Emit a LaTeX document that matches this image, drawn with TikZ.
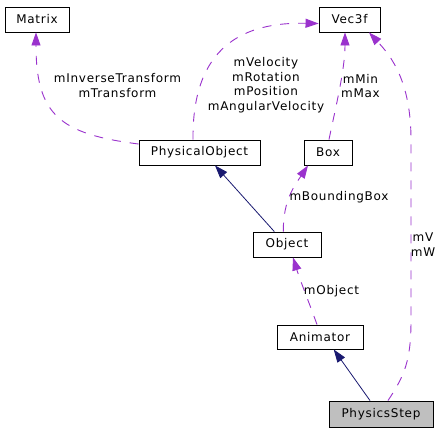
\documentclass[tikz,border=0pt]{standalone}
\usepackage{fontspec}
\setmainfont{DejaVu Sans}[LetterSpace=6]
\usetikzlibrary{arrows.meta}
\definecolor{edgepurple}{HTML}{9A32CD}
\definecolor{edgenavy}{HTML}{191970}
\definecolor{boxgray}{HTML}{BFBFBF}
\begin{document}
\begin{tikzpicture}[x=1pt,y=-1pt,
  cls/.style={draw=black,line width=0.9pt,inner sep=0pt,minimum height=25pt,font=\fontsize{12}{14.5}\selectfont},
  lbl/.style={align=center,inner sep=0pt,font=\fontsize{12}{14.5}\selectfont},
  usage/.style={draw=edgepurple,line width=0.9pt,dash pattern=on 9pt off 9pt,-{Triangle[length=13pt,width=9pt,fill=edgepurple]}},
  inherit/.style={draw=edgenavy,line width=0.8pt,-{Triangle[length=13pt,width=9pt,fill=edgenavy]}}
]
\useasboundingbox[fill=white] (0,0) rectangle (444,432);
\node[cls,minimum width=64pt] (matrix) at (37,19.5) {Matrix};
\node[cls,minimum width=61pt] (vec) at (349.5,19.5) {Vec3f};
\node[cls,minimum width=121pt] (po) at (199.5,152.5) {PhysicalObject};
\node[cls,minimum width=48pt] (box) at (328,152.5) {Box};
\node[cls,minimum width=68pt] (obj) at (287,244.5) {Object};
\node[cls,minimum width=86pt,minimum height=24pt] (anim) at (320,337) {Animator};
\node[cls,minimum width=104pt,minimum height=26pt,fill=boxgray] (ps) at (381,414) {PhysicsStep};
% edges
\draw[usage] ([yshift=8.5pt]po.west) .. controls (60,134) and (36,115) .. ([xshift=-1pt]matrix.south);
\draw[usage] ([xshift=-6.5pt]po.north) .. controls (192,45) and (245,22) .. ([yshift=-4pt]vec.west);
\draw[usage] ([xshift=1pt]box.north) .. controls (335,110) and (345,70) .. ([xshift=-4.5pt]vec.south);
\draw[usage] ([xshift=7pt]ps.north) .. controls (405,375) and (411,360) .. (411,320) -- (411,140) .. controls (411,80) and (390,55) .. ([xshift=19.5pt]vec.south);
\draw[inherit] ([xshift=-12.7pt]obj.north) -- ([xshift=15.5pt]po.south);
\draw[usage] ([xshift=-3.7pt]obj.north) .. controls (283,200) and (295,185) .. ([xshift=-20pt]box.south);
\draw[usage] ([xshift=-3pt]anim.north) .. controls (310,305) and (300,280) .. ([xshift=6pt]obj.south);
\draw[inherit] ([xshift=-11pt]ps.north) -- ([xshift=13.7pt]anim.south);
% labels
\node[lbl] (l1) at (117.5,85.5) {mInverseTransform\\mTransform};
\node[lbl] (l2) at (266,85) {mVelocity\\mRotation\\mPosition\\mAngularVelocity};
\node[lbl] (l3) at (360.5,86) {mMin\\mMax};
\node[lbl] (l4) at (423,244.5) {mV\\mW};
\node[lbl] (l5) at (339,197) {mBoundingBox};
\node[lbl] (l6) at (331.5,291) {mObject};
\end{tikzpicture}
\end{document}
